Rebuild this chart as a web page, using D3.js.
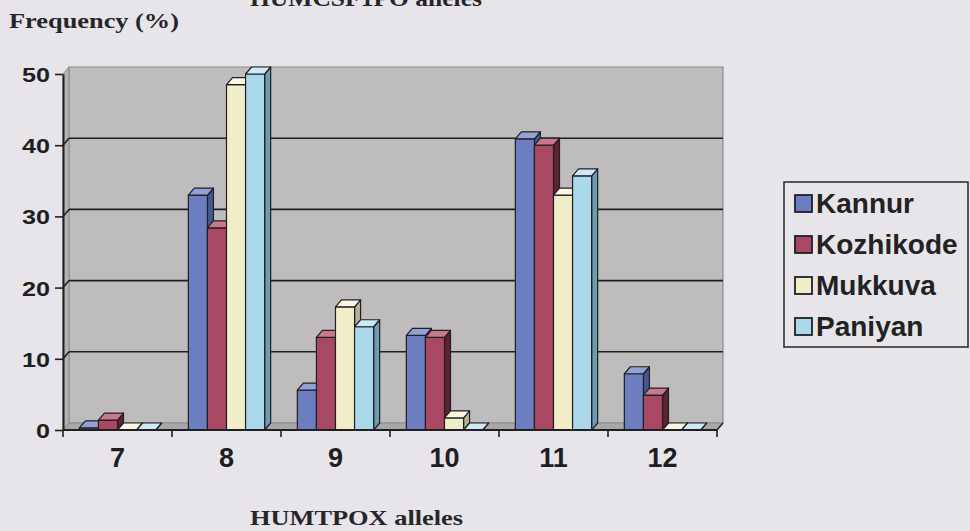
<!DOCTYPE html>
<html>
<head>
<meta charset="utf-8">
<script src="https://cdn.jsdelivr.net/npm/d3@7"></script>
<style>
  html, body { margin: 0; padding: 0; background: #e7e5e9; }
  svg { display: block; }
</style>
</head>
<body>
<svg id="chart" width="970" height="531"></svg>
<script>
// HUMTPOX allele frequencies (%) in four populations
const alleles   = ["7", "8", "9", "10", "11", "12"];
const kannur    = [0.3, 33.0, 5.6, 13.3, 40.9, 7.9];
const kozhikode = [1.4, 28.4, 13.0, 13.0, 40.0, 4.9];
const mukkuva   = [0, 48.5, 17.3, 1.7, 33.0, 0];
const paniyan   = [0, 50.0, 14.5, 0, 35.7, 0];
const seriesNames = ["Kannur", "Kozhikode", "Mukkuva", "Paniyan"];
const yTicks = [0, 10, 20, 30, 40, 50];

const seriesValues = [kannur, kozhikode, mukkuva, paniyan];
const faceColors = {
  Kannur:    { front: "#6c7ec0", top: "#93a2d6", side: "#46568f" },
  Kozhikode: { front: "#a94862", top: "#c77a8c", side: "#5e2233" },
  Mukkuva:   { front: "#f1edc9", top: "#fbf8e2", side: "#b5b195" },
  Paniyan:   { front: "#aad9ec", top: "#cdeaf5", side: "#6e9db0" }
};

const svg = d3.select("#chart");
const ink = "#1f1f24";

// 3-D depth offset of the plot box
const DX = 6, DY = -7;

const x0 = d3.scaleBand().domain(alleles).range([63, 717])
  .paddingInner(0.3).paddingOuter(0.15);
const x1 = d3.scaleBand().domain(seriesNames).range([0, x0.bandwidth()]).padding(0);
const y = d3.scaleLinear().domain([0, 50]).range([430, 74]);

const xL = 63, xR = 717, yB = y(0), yT = y(50);

// walls and floor
const walls = svg.append("g");
walls.append("polygon")
  .attr("points", [[xL + DX, yT + DY], [xR + DX, yT + DY], [xR + DX, yB + DY], [xL + DX, yB + DY]].join(" "))
  .attr("fill", "#bebcbd").attr("stroke", "#8d8b8e").attr("stroke-width", 1.2);
walls.append("polygon")
  .attr("points", [[xL, yT], [xL + DX, yT + DY], [xL + DX, yB + DY], [xL, yB]].join(" "))
  .attr("fill", "#b3b1b3").attr("stroke", "#8d8b8e").attr("stroke-width", 1);
walls.append("polygon")
  .attr("points", [[xL, yB], [xL + DX, yB + DY], [xR + DX, yB + DY], [xR, yB]].join(" "))
  .attr("fill", "#a9a7aa").attr("stroke", "#8d8b8e").attr("stroke-width", 1);

// gridlines on the back and side walls
const grid = svg.append("g").attr("stroke", ink).attr("stroke-width", 1.6).attr("fill", "none");
yTicks.filter(v => v > 0 && v < 50).forEach(v => {
  grid.append("line")
    .attr("x1", xL + DX).attr("x2", xR + DX)
    .attr("y1", y(v) + DY).attr("y2", y(v) + DY);
  grid.append("line")
    .attr("x1", xL).attr("x2", xL + DX)
    .attr("y1", y(v)).attr("y2", y(v) + DY);
});

// bars: front, top and side faces, drawn left to right
const bars = svg.append("g").attr("stroke", ink).attr("stroke-width", 1.2).attr("stroke-linejoin", "round");
alleles.forEach((a, ci) => {
  seriesNames.forEach((s, si) => {
    const v = seriesValues[si][ci];
    const bx = x0(a) + x1(s);
    const w = x1.bandwidth();
    const ty = y(v);
    const c = faceColors[s];
    const g = bars.append("g");
    g.append("polygon")
      .attr("points", [[bx + w, ty], [bx + w + DX, ty + DY], [bx + w + DX, yB + DY], [bx + w, yB]].join(" "))
      .attr("fill", c.side);
    g.append("rect")
      .attr("x", bx).attr("y", ty).attr("width", w).attr("height", yB - ty)
      .attr("fill", c.front);
    g.append("polygon")
      .attr("points", [[bx, ty], [bx + DX, ty + DY], [bx + w + DX, ty + DY], [bx + w, ty]].join(" "))
      .attr("fill", c.top);
  });
});

// y axis
const yAxis = svg.append("g")
  .attr("transform", `translate(${xL},0)`)
  .call(d3.axisLeft(y).tickValues(yTicks).tickFormat(d3.format("d")).tickSize(8).tickSizeOuter(0).tickPadding(5));
yAxis.select(".domain").attr("stroke", ink).attr("stroke-width", 2);
yAxis.selectAll(".tick line").attr("stroke", ink).attr("stroke-width", 1.6);
yAxis.selectAll(".tick text")
  .attr("fill", "#1e1e22").attr("font-family", "'Liberation Sans', Arial, sans-serif")
  .attr("font-weight", "bold").attr("font-size", 21).attr("dy", "0.36em")
  .attr("textLength", d => String(d).length * 14).attr("lengthAdjust", "spacingAndGlyphs");

// x axis: line, boundary ticks and centred labels
const xAxis = svg.append("g").attr("transform", `translate(0,${yB})`);
xAxis.call(d3.axisBottom(x0).tickSize(0).tickPadding(18));
xAxis.select(".domain").remove();
xAxis.selectAll(".tick text")
  .attr("fill", "#1e1e22").attr("font-family", "'Liberation Sans', Arial, sans-serif")
  .attr("font-weight", "bold").attr("font-size", 27);
xAxis.append("line").attr("x1", xL).attr("x2", xR).attr("y1", 0).attr("y2", 0)
  .attr("stroke", ink).attr("stroke-width", 2);
xAxis.append("line").attr("x1", xR).attr("x2", xR + DX).attr("y1", 0).attr("y2", DY)
  .attr("stroke", ink).attr("stroke-width", 1.4);
const bounds = d3.range(alleles.length + 1).map(i => xL + i * x0.step());
xAxis.selectAll(".bound").data(bounds).join("line")
  .attr("class", "bound")
  .attr("x1", d => d).attr("x2", d => d).attr("y1", 0).attr("y2", 7)
  .attr("stroke", ink).attr("stroke-width", 1.6);

// titles
const serif = "'Liberation Serif', 'Times New Roman', serif";
svg.append("text").attr("x", 250).attr("y", 6)
  .attr("font-family", serif).attr("font-weight", "bold").attr("font-size", 23)
  .attr("fill", "#26262a").attr("textLength", 232).attr("lengthAdjust", "spacingAndGlyphs")
  .text("HUMCSF1PO alleles");
svg.append("text").attr("x", 9).attr("y", 28)
  .attr("font-family", serif).attr("font-weight", "bold").attr("font-size", 22)
  .attr("fill", "#26262a").attr("textLength", 170).attr("lengthAdjust", "spacingAndGlyphs")
  .text("Frequency (%)");
svg.append("text").attr("x", 250).attr("y", 525)
  .attr("font-family", serif).attr("font-weight", "bold").attr("font-size", 22)
  .attr("fill", "#26262a").attr("textLength", 213).attr("lengthAdjust", "spacingAndGlyphs")
  .text("HUMTPOX alleles");

// legend
const legend = svg.append("g");
legend.append("rect").attr("x", 784).attr("y", 182).attr("width", 184).attr("height", 165)
  .attr("fill", "none").attr("stroke", "#333").attr("stroke-width", 1.6);
seriesNames.forEach((s, i) => {
  const cy = 203 + i * 41;
  legend.append("rect").attr("x", 795).attr("y", cy - 8).attr("width", 17).attr("height", 17)
    .attr("fill", faceColors[s].front).attr("stroke", ink).attr("stroke-width", 1.8);
  legend.append("text").attr("x", 816).attr("y", cy + 10)
    .attr("font-family", "'Liberation Sans', Arial, sans-serif").attr("font-weight", "bold")
    .attr("font-size", 28).attr("fill", "#222").text(s);
});
</script>
</body>
</html>
